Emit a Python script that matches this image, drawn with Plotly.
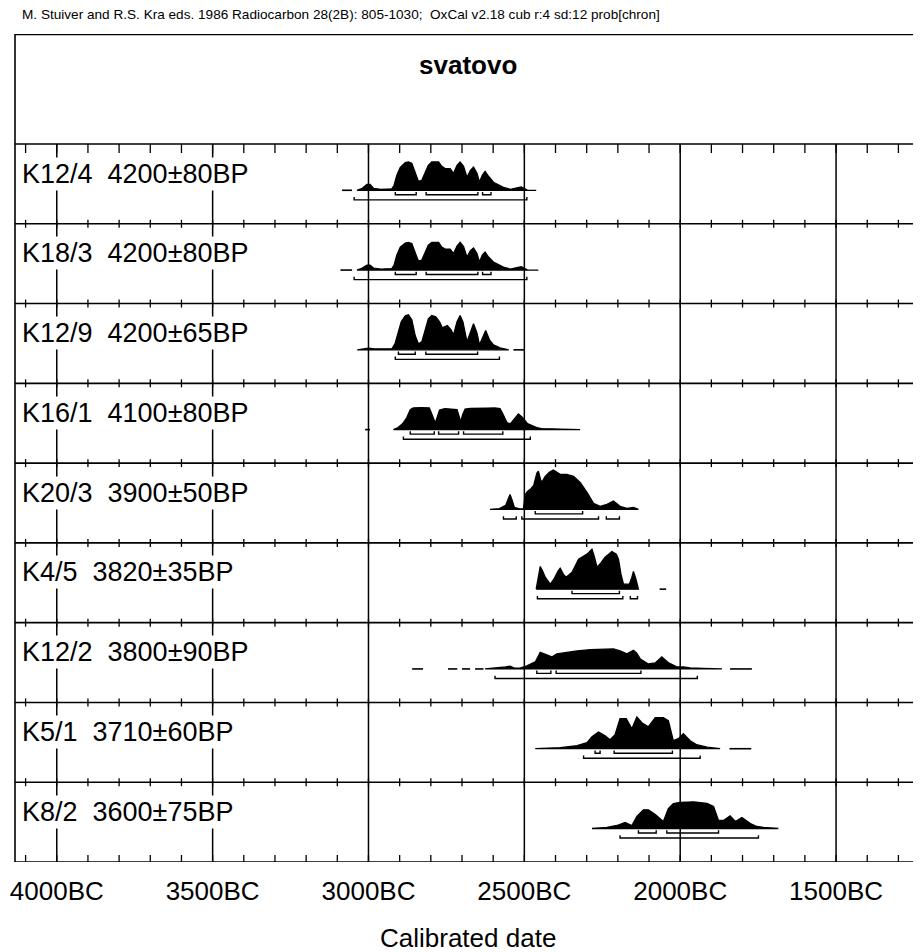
import plotly.graph_objects as go

# ---------------- data ----------------
samples = ["K12/4", "K18/3", "K12/9", "K16/1", "K20/3", "K4/5", "K12/2", "K5/1", "K8/2"]
bp_ages = [4200, 4200, 4200, 4100, 3900, 3820, 3800, 3710, 3600]
bp_errors = [80, 80, 65, 80, 50, 35, 90, 60, 75]

# calibrated probability curves: years BC and relative probability
k12_4_years = [3037, 3020, 3005, 2995, 2984, 2960, 2925, 2918, 2909, 2898, 2882, 2872, 2861, 2850, 2840, 2829, 2818, 2808, 2797, 2786, 2775, 2765, 2754, 2738, 2727, 2716, 2706, 2695, 2684, 2673, 2663, 2652, 2644, 2635, 2626, 2615, 2599, 2580, 2567, 2545, 2525, 2510, 2495, 2490, 2462]
k12_4_prob = [0, 2, 6, 6, 2, 1, 1.5, 5, 15, 23, 27.7, 28.3, 27, 18, 9, 10, 17, 25, 28.3, 28, 28.3, 24, 21.7, 21.7, 17, 25, 28.3, 24, 13, 20, 23.3, 17, 8, 15, 19, 14, 8, 5, 3, 1, 2.5, 3.3, 1, 0, 0]

k18_3_years = [3037, 3020, 3005, 2995, 2984, 2960, 2925, 2918, 2909, 2898, 2882, 2872, 2861, 2850, 2840, 2829, 2818, 2808, 2797, 2786, 2775, 2765, 2754, 2738, 2727, 2716, 2706, 2695, 2684, 2673, 2663, 2652, 2644, 2635, 2626, 2615, 2599, 2580, 2567, 2545, 2525, 2510, 2495, 2490, 2455]
k18_3_prob = [0, 2, 5, 5, 2, 1, 1.5, 5, 15, 23, 27, 27.7, 26.5, 18, 9, 10, 17, 25, 27.7, 27.5, 27.7, 23, 21, 21, 16.5, 24, 27.7, 23.5, 13, 19.5, 22, 16.5, 8, 15, 18, 13, 8, 5, 3, 1, 2.5, 3.3, 1, 0, 0]

k12_9_years = [3036, 3015, 3000, 2980, 2925, 2915, 2905, 2895, 2882, 2872, 2861, 2850, 2840, 2829, 2818, 2808, 2797, 2784, 2772, 2763, 2747, 2735, 2727, 2716, 2706, 2697, 2684, 2673, 2663, 2652, 2644, 2634, 2624, 2612, 2599, 2578, 2556, 2550]
k12_9_prob = [0, 1, 1.7, 1, 1, 6, 16, 28, 34, 35, 30, 14, 6, 8, 20, 31, 34.3, 33, 28, 22, 24.3, 20, 15, 28, 34.3, 28, 8, 18, 26, 17, 5, 12, 19.3, 10, 5, 2, 0.5, 0]

k16_1_years = [2920, 2905, 2890, 2877, 2866, 2856, 2830, 2805, 2795, 2786, 2780, 2772, 2755, 2735, 2716, 2708, 2704, 2698, 2690, 2674, 2650, 2620, 2595, 2578, 2568, 2556, 2545, 2530, 2519, 2505, 2490, 2475, 2460, 2445, 2400, 2321]
k16_1_prob = [0, 2, 6, 12, 20, 21.7, 22, 21.7, 14, 6.7, 12, 19.5, 21, 20.5, 20, 12, 7.7, 15, 20.5, 21.3, 21.7, 21.5, 21.7, 21, 15, 7, 5.7, 12, 15.7, 12, 6, 4, 2, 1, 0.6, 0.4]

k20_3_years = [2610, 2580, 2560, 2550, 2546, 2540, 2532, 2515, 2503, 2497, 2490, 2481, 2470, 2460, 2455, 2448, 2444, 2433, 2420, 2407, 2395, 2385, 2364, 2342, 2321, 2299, 2278, 2257, 2235, 2214, 2200, 2193, 2171, 2150, 2134]
k20_3_prob = [0, 0.7, 4, 12, 15, 10, 2, 0.5, 0.5, 15, 18, 20, 24, 36, 38.3, 30, 27, 33, 37, 39.3, 37, 35, 35, 33, 27, 17, 6, 3, 5, 8.3, 5, 3, 1, 2, 0]

k4_5_years = [2462, 2455, 2449, 2441, 2433, 2417, 2405, 2392, 2385, 2375, 2366, 2347, 2326, 2299, 2283, 2275, 2267, 2255, 2241, 2219, 2205, 2198, 2190, 2182, 2163, 2155, 2150, 2142, 2134]
k4_5_prob = [0, 15, 22.7, 18, 12, 5, 10, 18, 21, 15, 12, 17, 30, 35, 40, 32, 22, 26, 32, 37.7, 35, 30, 15, 5, 5, 12, 17.7, 10, 0]

k12_2_years = [2626, 2590, 2560, 2546, 2530, 2514, 2492, 2465, 2455, 2449, 2428, 2412, 2396, 2364, 2331, 2289, 2246, 2214, 2193, 2171, 2150, 2140, 2128, 2102, 2080, 2059, 2037, 2011, 1990, 1968, 1925, 1866]
k12_2_prob = [0, 0.7, 2, 2.7, 0.7, 0.7, 3, 7, 14, 16.7, 14, 12, 15, 16.7, 18, 19.3, 20, 20, 18, 15, 18.7, 16, 10, 5, 6, 12, 6, 2, 2, 1, 0.5, 0]

k5_1_years = [2465, 2385, 2331, 2299, 2283, 2262, 2241, 2225, 2209, 2200, 2193, 2173, 2155, 2139, 2123, 2102, 2080, 2054, 2038, 2030, 2022, 2006, 1990, 1968, 1947, 1914, 1872]
k5_1_prob = [0, 1, 3, 6, 12, 16.7, 13, 9, 14, 24, 30, 30, 20, 31.7, 26, 22, 31, 31, 28, 18, 8, 10, 15, 8, 4, 1.5, 0]

k8_2_years = [2283, 2235, 2203, 2177, 2155, 2139, 2118, 2102, 2080, 2054, 2038, 2022, 2000, 1957, 1914, 1893, 1877, 1861, 1840, 1823, 1802, 1775, 1754, 1733, 1685]
k8_2_prob = [0, 1, 3, 6, 3, 12, 18.7, 18.7, 14, 7, 20, 25, 26, 26.7, 25, 22, 8, 8, 12.7, 7, 11, 5, 2, 1, 0]

# low-probability tail dashes (years BC)
k12_4_tails = [[3085, 3053]]
k18_3_tails = [[3090, 3053]]
k12_9_tails = [[2535, 2498]]
k16_1_tails = [[3011, 2995]]
k20_3_tails = []
k4_5_tails = [[2066, 2045]]
k12_2_tails = [[2860, 2825], [2745, 2715], [2700, 2674], [2658, 2631], [1840, 1770]]
k5_1_tails = [[1842, 1772]]
k8_2_tails = []

# 68.2% and 95.4% ranges (years BC)
k12_4_sig1 = [[2914, 2847], [2815, 2649], [2634, 2607]]
k12_4_sig2 = [[3046, 2492]]
k18_3_sig1 = [[2914, 2847], [2815, 2649], [2634, 2607]]
k18_3_sig2 = [[3046, 2492]]
k12_9_sig1 = [[2904, 2850], [2816, 2650]]
k12_9_sig2 = [[2914, 2580]]
k16_1_sig1 = [[2866, 2789], [2775, 2711], [2695, 2569]]
k16_1_sig2 = [[2888, 2481]]
k20_3_sig1 = [[2465, 2313]]
k20_3_sig2 = [[2567, 2526], [2508, 2262], [2237, 2195]]
k4_5_sig1 = [[2347, 2195]]
k4_5_sig2 = [[2458, 2184], [2160, 2137]]
k12_2_sig1 = [[2460, 2415], [2398, 2126]]
k12_2_sig2 = [[2594, 1945]]
k5_1_sig1 = [[2273, 2257], [2212, 2025]]
k5_1_sig2 = [[2310, 1936]]
k8_2_sig1 = [[2134, 2077], [2043, 1877]]
k8_2_sig2 = [[2193, 1749]]

axis_years = [4000, 3500, 3000, 2500, 2000, 1500]
axis_labels = ["4000BC", "3500BC", "3000BC", "2500BC", "2000BC", "1500BC"]
minor_years = list(range(1300, 4200, 100))

site_title = "svatovo"
header_text = ("M. Stuiver and R.S. Kra eds. 1986 Radiocarbon 28(2B): 805-1030;  "
               "OxCal v2.18 cub r:4 sd:12 prob[chron]")
x_title = "Calibrated date"

curves = [(k12_4_years, k12_4_prob), (k18_3_years, k18_3_prob), (k12_9_years, k12_9_prob),
          (k16_1_years, k16_1_prob), (k20_3_years, k20_3_prob), (k4_5_years, k4_5_prob),
          (k12_2_years, k12_2_prob), (k5_1_years, k5_1_prob), (k8_2_years, k8_2_prob)]
tails = [k12_4_tails, k18_3_tails, k12_9_tails, k16_1_tails, k20_3_tails,
         k4_5_tails, k12_2_tails, k5_1_tails, k8_2_tails]
sig1 = [k12_4_sig1, k18_3_sig1, k12_9_sig1, k16_1_sig1, k20_3_sig1,
        k4_5_sig1, k12_2_sig1, k5_1_sig1, k8_2_sig1]
sig2 = [k12_4_sig2, k18_3_sig2, k12_9_sig2, k16_1_sig2, k20_3_sig2,
        k4_5_sig2, k12_2_sig2, k5_1_sig2, k8_2_sig2]

# ---------------- layout constants ----------------
X_LEFT, X_RIGHT = 4134, 1227.5
HEADER = 1.379          # header height in row units
N = len(samples)
BASE = 0.58             # baseline offset within a row
PSCALE = 1 / 79.78      # relative probability -> row units
S1_OFF, S2_OFF, BRK = 0.056, 0.12, 0.035
FONT = "Liberation Sans, Arial, Helvetica, sans-serif"

fig = go.Figure()

for i in range(N):
    base = i + BASE
    yrs, pr = curves[i]
    xs = list(yrs) + list(yrs[::-1])
    ys = [base - p * PSCALE for p in pr] + [base] * len(yrs)
    fig.add_trace(go.Scatter(x=xs, y=ys, mode="lines", fill="toself",
                             fillcolor="black", line=dict(color="black", width=1.3),
                             hoverinfo="skip", showlegend=False))
    tx, ty = [], []
    for a, b in tails[i]:
        tx += [a, b, None]
        ty += [base, base, None]
    if tx:
        fig.add_trace(go.Scatter(x=tx, y=ty, mode="lines", line=dict(color="black", width=1.6),
                                 hoverinfo="skip", showlegend=False))
    bx, by = [], []
    for rngs, off in ((sig1[i], S1_OFF), (sig2[i], S2_OFF)):
        yb = base + off
        for a, b in rngs:
            bx += [a, a, b, b, None]
            by += [yb - BRK, yb, yb, yb - BRK, None]
    fig.add_trace(go.Scatter(x=bx, y=by, mode="lines", line=dict(color="black", width=1.4),
                             hoverinfo="skip", showlegend=False))

# tick marks on the row lines
gx, gy = [], []
for k in range(N + 1):
    for yr in minor_years:
        if k == 0:
            y0, y1 = 0, 0.113
        elif k == N:
            y0, y1 = N, N - 0.088
        else:
            y0, y1 = k - 0.05, k + 0.05
        gx += [yr, yr, None]
        gy += [y0, y1, None]
fig.add_trace(go.Scatter(x=gx, y=gy, mode="lines", line=dict(color="black", width=1.3),
                         hoverinfo="skip", showlegend=False))

shapes = []
for k in range(N + 1):
    shapes.append(dict(type="line", xref="paper", yref="y", x0=0, x1=1, y0=k, y1=k,
                       line=dict(color="black", width=1.6), layer="below"))
for yr in axis_years:
    shapes.append(dict(type="line", xref="x", yref="y", x0=yr, x1=yr, y0=0, y1=N,
                       line=dict(color="black", width=1.5), layer="below"))
shapes.append(dict(type="line", xref="paper", yref="y", x0=0, x1=1, y0=-HEADER, y1=-HEADER,
                   line=dict(color="black", width=2.6), layer="below"))
shapes.append(dict(type="line", xref="paper", yref="y", x0=0, x1=0, y0=-HEADER, y1=N,
                   line=dict(color="black", width=1.6), layer="below"))

annotations = []
for i in range(N):
    annotations.append(dict(
        x=0, xref="paper", xanchor="left", xshift=5,
        y=i + 0.37, yref="y", yanchor="middle",
        text=f"{samples[i]}\u00a0\u00a0{bp_ages[i]}±{bp_errors[i]}BP",
        showarrow=False, bgcolor="white", borderpad=1,
        font=dict(family=FONT, size=27, color="black")))
annotations.append(dict(x=0.5, xref="paper", y=-HEADER + 0.39, yref="y", yanchor="middle",
                        text=f"<b>{site_title}</b>", showarrow=False,
                        font=dict(family=FONT, size=26, color="black")))
annotations.append(dict(x=0.0055, xref="paper", xanchor="left", y=1.023, yref="paper",
                        yanchor="middle", text=header_text, showarrow=False,
                        font=dict(family=FONT, size=13.6, color="black")))
annotations.append(dict(x=0.5, xref="paper", y=-0.092, yref="paper", yanchor="middle",
                        text=x_title, showarrow=False,
                        font=dict(family=FONT, size=26, color="black")))

# the page body adds an 8px offset, so the figure is 8px smaller and margins compensate
fig.update_layout(
    width=913, height=944,
    margin=dict(l=7, r=0, t=26, b=90, autoexpand=False),
    paper_bgcolor="white", plot_bgcolor="white",
    shapes=shapes, annotations=annotations, showlegend=False,
    xaxis=dict(range=[X_LEFT, X_RIGHT], tickvals=axis_years, ticktext=axis_labels,
               ticks="", showgrid=False, zeroline=False, showline=False,
               tickfont=dict(family=FONT, size=26, color="black"),
               ticklabelstandoff=11, fixedrange=True, automargin=False),
    yaxis=dict(range=[N, -HEADER], showticklabels=False, ticks="", showgrid=False,
               zeroline=False, showline=False, fixedrange=True, automargin=False),
)

fig.write_html("out.html")
